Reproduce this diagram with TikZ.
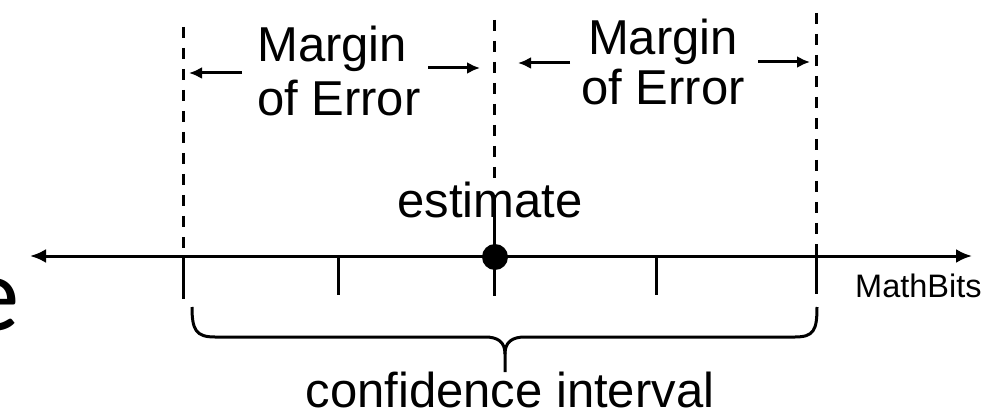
\documentclass[tikz,border=0pt]{standalone}
\usepackage{fontspec}
\setmainfont{Liberation Sans}
\newfontfamily\slidefont{Carlito}
\usetikzlibrary{arrows.meta}
\begin{document}
\begin{tikzpicture}[x=1pt,y=-1pt,
  lbl/.style={inner sep=0pt,font=\fontsize{49}{53}\selectfont},
  axisline/.style={line width=3pt,{Latex[length=16pt,width=14pt]}-{Latex[length=16pt,width=14pt]}},
  moearrow/.style={line width=3pt,-{Latex[length=13pt,width=12pt]}},
  dashline/.style={line width=3pt,dash pattern=on 11pt off 10pt},
  solidline/.style={line width=3pt},
  brace/.style={line width=3pt,line join=round}]
\useasboundingbox (0,0) rectangle (1005,417);
\clip (0,0) rectangle (1005,417);
\fill[white] (0,0) rectangle (1005,417);

% partial slide letter
\node[inner sep=0pt,anchor=base west,font=\fontsize{107}{110}\slidefont] (slidee) at (-34,330) {e};

% coordinates
\coordinate (axL) at (30,256);
\coordinate (axR) at (972,256);
\coordinate (lTop) at (183,27);
\coordinate (lAx) at (183,256);
\coordinate (lBot) at (183,299);
\coordinate (mTop) at (494,20);
\coordinate (mDashEnd) at (494,185);
\coordinate (mStem) at (494,195);
\coordinate (mBot) at (494,296);
\coordinate (rTop) at (816,13);
\coordinate (rAx) at (816,256);
\coordinate (rBot) at (816,294);
\coordinate (t1Top) at (338,256);
\coordinate (t1Bot) at (338,295);
\coordinate (t2Top) at (656,256);
\coordinate (t2Bot) at (656,295);

% axis
\draw[axisline] (axL) -- (axR);

% boundary lines
\draw[dashline] (lTop) -- (lAx);
\draw[solidline] (lAx) -- (lBot);
\draw[dashline] (mTop) -- (mDashEnd);
\draw[solidline] (mStem) -- (mBot);
\draw[dashline] (rTop) -- (rAx);
\draw[solidline] (rAx) -- (rBot);

% ticks
\draw[solidline] (t1Top) -- (t1Bot);
\draw[solidline] (t2Top) -- (t2Bot);

% estimate dot
\node[circle,fill=black,minimum size=26pt,inner sep=0pt] (dot) at (495,257) {};

% labels
\node[lbl,anchor=base west,align=left] (moeL) at (257,116) {Margin\\[1pt]of Error};
\node[lbl,anchor=base,align=center,font=\fontsize{49}{50}\selectfont] (moeR) at (663,105) {Margin\\of Error};
\node[lbl,anchor=base] (est) at (490,218) {estimate};
\node[inner sep=0pt,anchor=base west,font=\fontsize{32.5}{34}\selectfont] (mb) at (855,297) {MathBits};
\node[lbl,anchor=base] (ci) at (510,407) {confidence interval};

% margin of error arrows
\coordinate (a1s) at (242,73); \coordinate (a1e) at (189,73);
\coordinate (a2s) at (428,68); \coordinate (a2e) at (480,68);
\coordinate (a3s) at (570,63); \coordinate (a3e) at (518,63);
\coordinate (a4s) at (758,62); \coordinate (a4e) at (810,62);
\draw[moearrow] (a1s) -- (a1e);
\draw[moearrow] (a2s) -- (a2e);
\draw[moearrow] (a3s) -- (a3e);
\draw[moearrow] (a4s) -- (a4e);

% brace
\coordinate (bL) at (192,307);
\coordinate (bR) at (817,307);
\coordinate (bTip) at (505,354);
\coordinate (bEnd) at (505,372);
\draw[brace] (bL) .. controls (192,330) and (196,337) .. (215,337) -- (485,337)
  .. controls (498,337) and (505,342) .. (bTip) -- (bEnd);
\draw[brace] (bTip) .. controls (505,342) and (512,337) .. (525,337) -- (795,337)
  .. controls (814,337) and (817,330) .. (bR);
\end{tikzpicture}
\end{document}
